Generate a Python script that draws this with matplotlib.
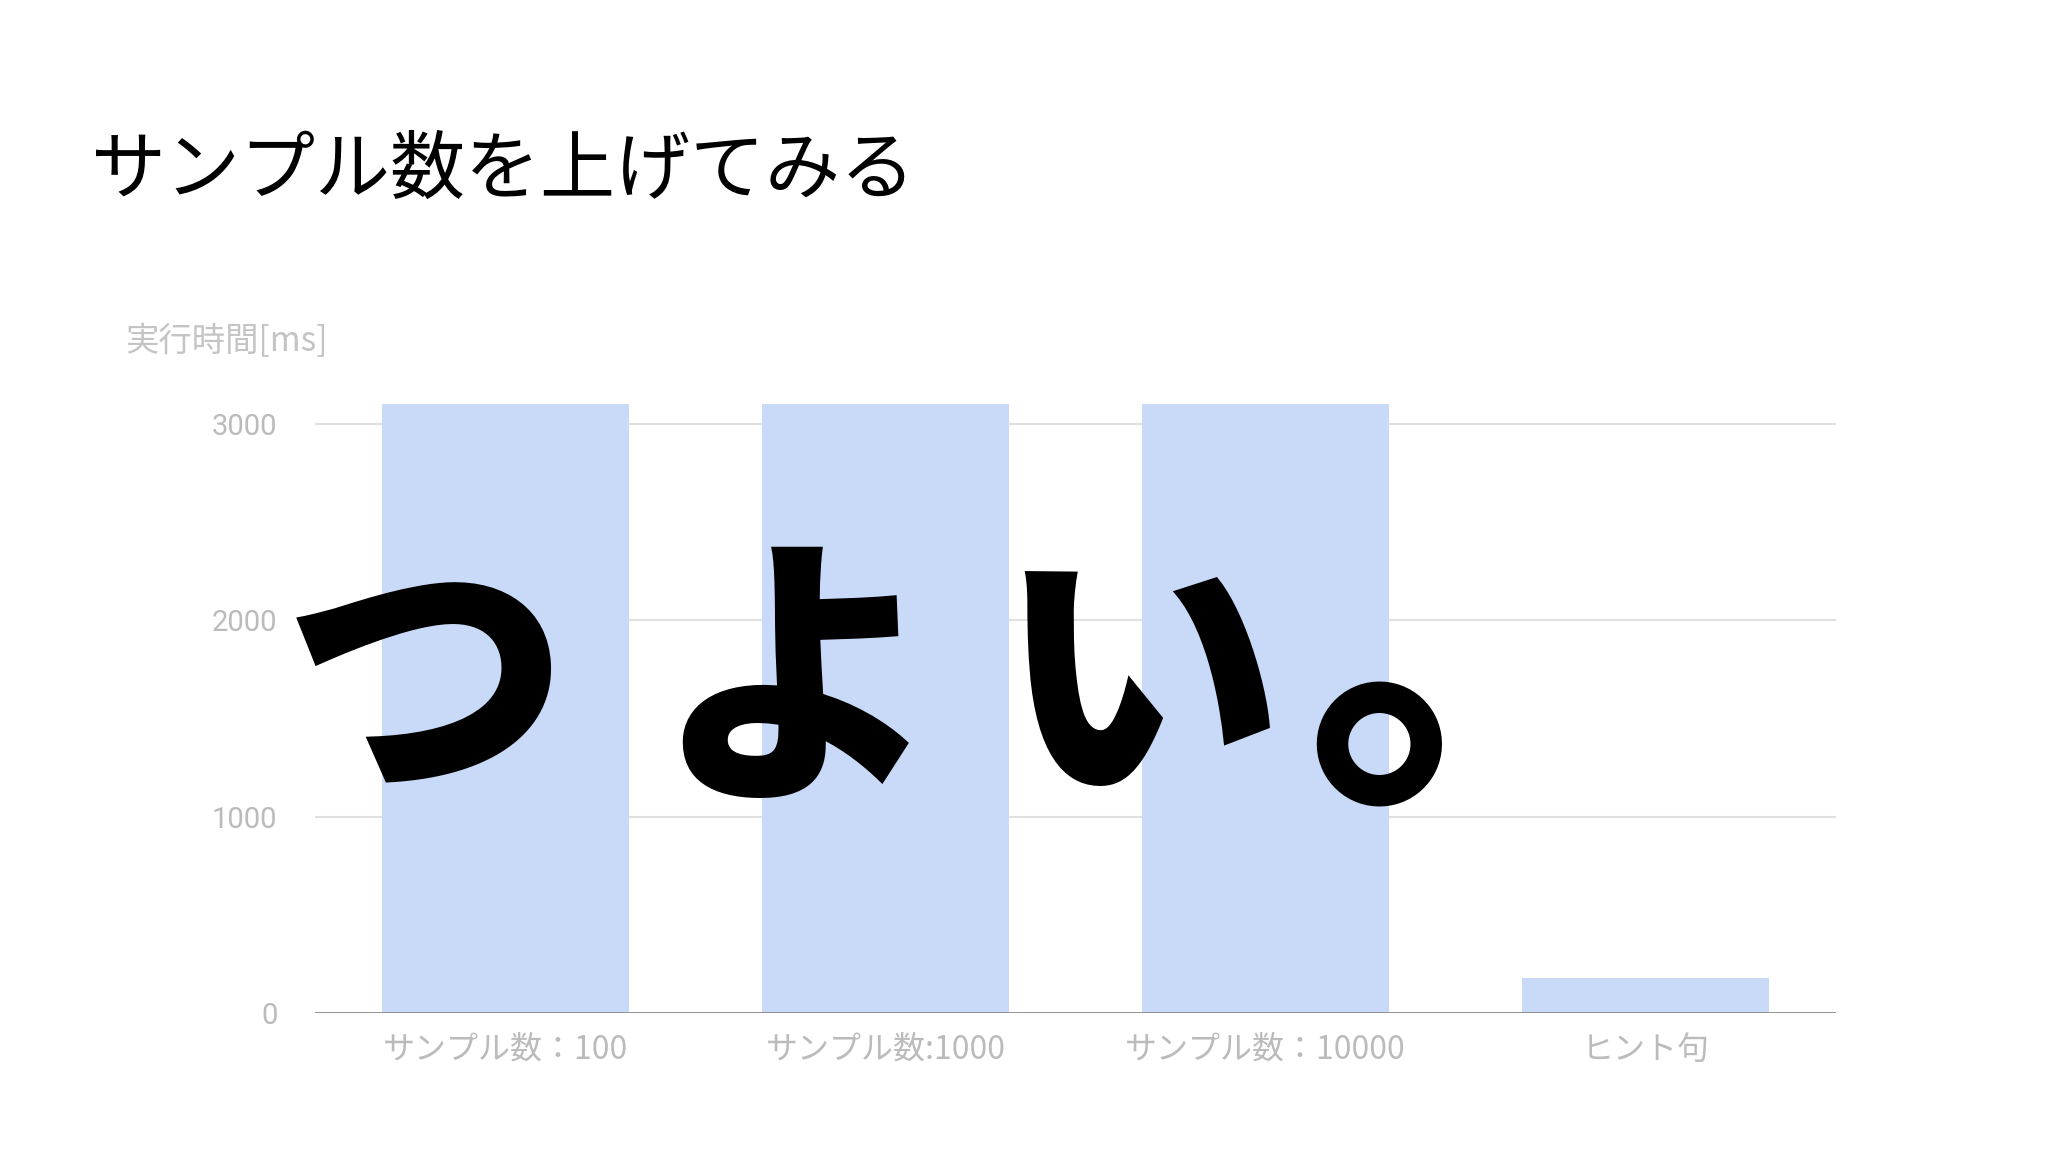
import matplotlib
matplotlib.use("Agg")
import matplotlib.pyplot as plt

plt.rcParams['font.family'] = ['Noto Sans CJK JP', 'DejaVu Sans']

# data
categories = ['サンプル数：100', 'サンプル数:1000', 'サンプル数：10000', 'ヒント句']
times_ms = [3100, 3100, 3100, 180]
y_ticks = [0, 1000, 2000, 3000]

title = 'サンプル数を上げてみる'
y_label = '実行時間[ms]'
overlay = 'つよい。'

W, H = 2048, 1152
fig = plt.figure(figsize=(W / 100, H / 100), dpi=100)

# axes placed where the chart sits on the slide
ax = fig.add_axes([315 / W, 1 - 1013 / H, (1836 - 315) / W, (1013 - 394.6) / H])
x = list(range(len(categories)))
ax.bar(x, times_ms, width=0.65, color='#c9daf8', zorder=2)
ax.set_xlim(-0.5, len(categories) - 0.5)
ax.set_ylim(0, 3150)
ax.set_yticks(y_ticks)
ax.set_yticklabels([str(v) for v in y_ticks])
ax.set_xticks(x)
ax.set_xticklabels(categories)
ax.tick_params(axis='both', length=0, colors='#bbbbbb')
ax.tick_params(axis='y', pad=27, labelsize=21)
ax.tick_params(axis='x', pad=15, labelsize=23)
for lab in ax.get_yticklabels():
    lab.set_family(['Roboto', 'DejaVu Sans'])
for v in y_ticks[1:]:
    ax.axhline(v, color='#e0e0e0', lw=1.5, zorder=1)
ax.axhline(0, color='#8a8a8a', lw=2, zorder=3)
for s in ax.spines.values():
    s.set_visible(False)

fig.text(91 / W, 1 - 171 / H, title, fontsize=54, color='black', va='center', ha='left')
fig.text(125 / W, 1 - 342 / H, y_label, fontsize=24, color='#c4c4c4', va='center', ha='left')

# big overlay text, one glyph at a time since the slide spaces them wide
char_x = [426, 798, 1140, 1494]
char_y = [694, 694, 694, 664]
char_size = [205, 205, 205, 270]
for ch, cx, cy, fs in zip(overlay, char_x, char_y, char_size):
    fig.text(cx / W, 1 - cy / H, ch, fontsize=fs, fontweight='heavy', color='black',
             va='center', ha='center', zorder=10)

fig.savefig('out.png', dpi=100, facecolor='white')
